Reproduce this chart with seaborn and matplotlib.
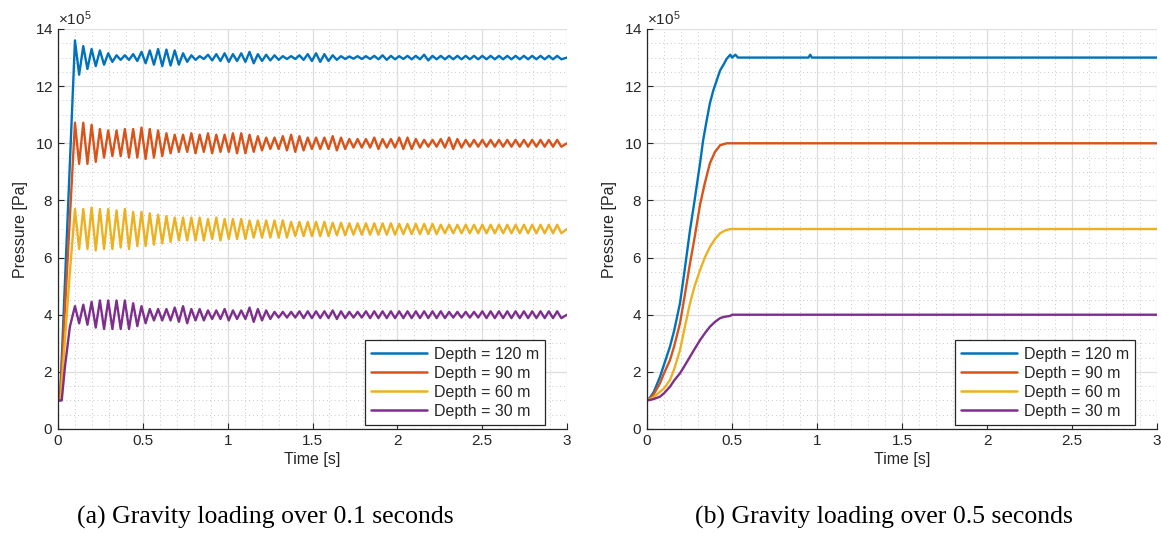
import numpy as np
import pandas as pd
import matplotlib
matplotlib.use("Agg")
import matplotlib.pyplot as plt
from matplotlib.ticker import ScalarFormatter, MultipleLocator
import seaborn as sns

# ---------------- data (pressure in units of 1e5 Pa) ----------------
labels = ["Depth = 120 m", "Depth = 90 m", "Depth = 60 m", "Depth = 30 m"]
colors = ["#0072BD", "#D95319", "#EDB120", "#7E2F8E"]
means = [13.0, 10.0, 7.0, 4.0]

# (a) loading over 0.1 s : ramp points before the oscillation
ramp_t_a = [[0.0, 0.012], [0.0, 0.012], [0.0, 0.015, 0.07], [0.0, 0.022, 0.041, 0.07]]
ramp_p_a = [[1.0, 1.0], [1.0, 1.0], [1.0, 1.0, 5.5], [1.0, 1.0, 2.18, 3.58]]
osc_start = 0.1
osc_period = 0.049
# oscillation half-amplitude per cycle
blue_amp = [0.6, 0.4, 0.3, 0.25, 0.15, 0.08, 0.08, 0.12, 0.2, 0.25,
            0.3, 0.28, 0.25, 0.15, 0.08, 0.05, 0.1, 0.12, 0.15, 0.12,
            0.15, 0.2, 0.12, 0.1, 0.08, 0.05, 0.05, 0.08, 0.12, 0.15,
            0.12, 0.08, 0.05, 0.04, 0.05, 0.05, 0.06, 0.08, 0.06, 0.05,
            0.06, 0.06, 0.1, 0.06, 0.06, 0.06, 0.06, 0.06, 0.06, 0.06,
            0.06, 0.06, 0.06, 0.06, 0.06, 0.06, 0.06, 0.06, 0.06]
red_amp = [0.72, 0.72, 0.65, 0.5, 0.45, 0.45, 0.5, 0.5, 0.55, 0.5,
           0.45, 0.35, 0.3, 0.3, 0.35, 0.3, 0.35, 0.3, 0.3, 0.35,
           0.35, 0.3, 0.25, 0.2, 0.2, 0.25, 0.3, 0.25, 0.2, 0.2,
           0.2, 0.25, 0.2, 0.15, 0.15, 0.15, 0.2, 0.15, 0.15, 0.2,
           0.2, 0.15, 0.12, 0.12, 0.15, 0.2, 0.15, 0.12, 0.12, 0.12,
           0.12, 0.12, 0.12, 0.12, 0.12, 0.12, 0.12, 0.12, 0.12]
yellow_amp = [0.7, 0.7, 0.75, 0.7, 0.7, 0.65, 0.7, 0.6, 0.6, 0.55,
              0.5, 0.45, 0.4, 0.4, 0.4, 0.4, 0.35, 0.4, 0.35, 0.35,
              0.35, 0.3, 0.3, 0.3, 0.3, 0.3, 0.25, 0.25, 0.25, 0.25,
              0.25, 0.22, 0.22, 0.2, 0.2, 0.2, 0.2, 0.2, 0.2, 0.18,
              0.18, 0.18, 0.18, 0.18, 0.15, 0.15, 0.15, 0.15, 0.15, 0.15,
              0.15, 0.15, 0.15, 0.15, 0.15, 0.15, 0.15, 0.15, 0.15]
purple_amp = [0.3, 0.35, 0.45, 0.5, 0.5, 0.5, 0.5, 0.4, 0.3, 0.2,
              0.2, 0.2, 0.25, 0.3, 0.2, 0.2, 0.15, 0.15, 0.2, 0.15,
              0.15, 0.25, 0.2, 0.15, 0.1, 0.1, 0.1, 0.12, 0.12, 0.12,
              0.12, 0.15, 0.12, 0.1, 0.1, 0.12, 0.12, 0.12, 0.12, 0.12,
              0.12, 0.12, 0.12, 0.12, 0.12, 0.1, 0.1, 0.1, 0.1, 0.12,
              0.12, 0.12, 0.12, 0.12, 0.12, 0.12, 0.12, 0.12, 0.12]
amps_a = [blue_amp, red_amp, yellow_amp, purple_amp]

# (b) loading over 0.5 s
t_b = [
    [0.0, 0.018, 0.04, 0.076, 0.1, 0.135, 0.16, 0.194, 0.22, 0.253, 0.28, 0.312, 0.33, 0.351,
     0.37, 0.39, 0.41, 0.43, 0.45, 0.469, 0.49, 0.50, 0.52, 0.535, 0.95, 0.96, 0.97, 3.0],
    [0.0, 0.02, 0.04, 0.076, 0.1, 0.135, 0.16, 0.194, 0.22, 0.253, 0.28, 0.312, 0.34, 0.37,
     0.4, 0.43, 0.45, 0.47, 0.5, 3.0],
    [0.0, 0.02, 0.04, 0.076, 0.1, 0.135, 0.16, 0.194, 0.22, 0.253, 0.28, 0.312, 0.34, 0.37,
     0.4, 0.43, 0.46, 0.49, 0.5, 3.0],
    [0.0, 0.02, 0.04, 0.076, 0.1, 0.135, 0.16, 0.194, 0.22, 0.253, 0.28, 0.312, 0.34, 0.37,
     0.4, 0.43, 0.45, 0.49, 0.5, 3.0],
]
p_b = [
    [1.0, 1.1, 1.3, 1.82, 2.25, 2.88, 3.45, 4.4, 5.5, 6.96, 8.0, 9.3, 10.1, 10.8,
     11.4, 11.85, 12.2, 12.55, 12.75, 12.96, 13.1, 13.0, 13.1, 13.0, 13.0, 13.1, 13.0, 13.0],
    [1.0, 1.08, 1.22, 1.6, 1.95, 2.41, 2.9, 3.7, 4.6, 5.8, 6.7, 7.85, 8.6, 9.3,
     9.7, 9.93, 9.97, 10.0, 10.0, 10.0],
    [1.0, 1.05, 1.12, 1.3, 1.42, 1.71, 2.1, 2.76, 3.5, 4.4, 5.0, 5.56, 6.0, 6.37,
     6.65, 6.85, 6.95, 7.0, 7.0, 7.0],
    [1.0, 1.02, 1.05, 1.13, 1.25, 1.48, 1.7, 1.95, 2.2, 2.53, 2.8, 3.11, 3.35, 3.58,
     3.75, 3.88, 3.92, 3.96, 4.0, 4.0],
]

captions = ["(a) Gravity loading over 0.1 seconds", "(b) Gravity loading over 0.5 seconds"]

# ---------------- build long-form tables ----------------
rows_a = []
for lab, m, rt, rp, amp in zip(labels, means, ramp_t_a, ramp_p_a, amps_a):
    for t, p in zip(rt, rp):
        rows_a.append((t, p * 1e5, lab))
    for k, a in enumerate(amp):
        tp = osc_start + k * osc_period
        rows_a.append((tp, (m + a) * 1e5, lab))
        rows_a.append((tp + osc_period / 2, (m - a) * 1e5, lab))
    rows_a.append((3.0, m * 1e5, lab))
df_a = pd.DataFrame(rows_a, columns=["Time", "Pressure", "Series"])

rows_b = []
for lab, tt, pp in zip(labels, t_b, p_b):
    for t, p in zip(tt, pp):
        rows_b.append((t, p * 1e5, lab))
df_b = pd.DataFrame(rows_b, columns=["Time", "Pressure", "Series"])

# ---------------- plot ----------------
sns.set_theme(style="white")
plt.rcParams["font.family"] = ["Liberation Sans", "DejaVu Sans"]
plt.rcParams["mathtext.fontset"] = "custom"
plt.rcParams["mathtext.rm"] = "Liberation Sans"

fig = plt.figure(figsize=(11.61, 5.33), dpi=100)
ax1 = fig.add_axes([58 / 1161, 104 / 533, 509 / 1161, 400 / 533])
ax2 = fig.add_axes([647 / 1161, 104 / 533, 510 / 1161, 400 / 533])

palette = dict(zip(labels, colors))
cap_x = [265 / 1161, 884 / 1161]
for ax, df, cap, cx in [(ax1, df_a, captions[0], cap_x[0]),
                        (ax2, df_b, captions[1], cap_x[1])]:
    sns.lineplot(data=df, x="Time", y="Pressure", hue="Series", hue_order=labels,
                 palette=palette, sort=False, estimator=None, linewidth=1.7, ax=ax)
    ax.set_xlim(0, 3)
    ax.set_ylim(0, 14e5)
    ax.xaxis.set_major_locator(MultipleLocator(0.5))
    ax.xaxis.set_minor_locator(MultipleLocator(0.1))
    ax.yaxis.set_major_locator(MultipleLocator(2e5))
    ax.yaxis.set_minor_locator(MultipleLocator(0.5e5))
    fmt = ScalarFormatter(useMathText=True)
    fmt.set_powerlimits((5, 5))
    ax.yaxis.set_major_formatter(fmt)
    ax.xaxis.set_major_formatter(matplotlib.ticker.FuncFormatter(lambda v, p: f"{v:g}"))
    ax.grid(True, which="major", color="#dedede", linewidth=0.9, linestyle="-")
    ax.grid(True, which="minor", color="#c8c8c8", linewidth=0.7, linestyle=(0, (1, 3)))
    ax.set_axisbelow(True)
    for s in ["top", "right"]:
        ax.spines[s].set_visible(False)
    for s in ["left", "bottom"]:
        ax.spines[s].set_color("#262626")
        ax.spines[s].set_linewidth(0.9)
    ax.tick_params(which="major", direction="in", length=4, width=0.8, color="#262626",
                   labelsize=11, labelcolor="#262626", left=True, bottom=True)
    ax.tick_params(which="minor", length=0)
    ax.yaxis.get_offset_text().set_fontsize(11)
    ax.yaxis.get_offset_text().set_color("#262626")
    ax.set_xlabel("Time [s]", fontsize=11.5, color="#262626", labelpad=3)
    ax.set_ylabel("Pressure [Pa]", fontsize=11.5, color="#262626", labelpad=5)
    leg = ax.legend(loc="lower right", bbox_to_anchor=(0.957, 0.01), fontsize=11.5,
                    frameon=True, fancybox=False, edgecolor="#262626", framealpha=1,
                    handlelength=3.5, borderpad=0.4, labelspacing=0.25, handletextpad=0.4,
                    borderaxespad=0)
    leg.get_frame().set_linewidth(0.9)
    for line in leg.get_lines():
        line.set_linewidth(1.8)
    fig.text(cx, 0.03, cap, ha="center", va="center",
             fontsize=18.5, family=["Liberation Serif", "DejaVu Serif"], color="black")

fig.savefig("out.png", dpi=100)
